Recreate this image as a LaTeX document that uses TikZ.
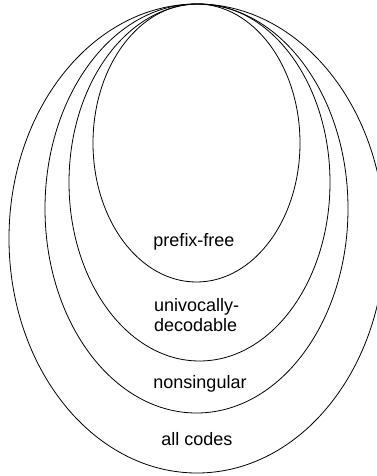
\documentclass[tikz,border=0pt]{standalone}
\usepackage{fontspec}
\setmainfont{Liberation Sans}
\usetikzlibrary{positioning}
\tikzset{
    borde/.style={draw=black, line width=0.8pt},
    rotulo/.style={font=\fontsize{18}{20.5}\selectfont, align=center, inner sep=0pt},
}

\begin{document}
\begin{tikzpicture}[x=1pt, y=-1pt]
\useasboundingbox (0,0) rectangle (377,476);
\clip (0,0) rectangle (377,476);
\begin{scope}
% conjuntos anidados
\draw[borde] (197,238.5) ellipse (188 and 234.5);
\draw[borde] (196.5,208.5) ellipse (151.5 and 204.5);
\draw[borde] (199.5,182.5) ellipse (130.5 and 178.5);
\draw[borde] (196.5,143) ellipse (103.5 and 139);
\end{scope}
\node[rotulo] (prefijo) at (194,242) {prefix-free};
\node[rotulo, align=left] (univoco) at (196.7,315) {univocally-\\decodable};
\node[rotulo] (nosingular) at (200,384) {nonsingular};
\node[rotulo] (todos) at (197,439) {all codes};
\end{tikzpicture}
\end{document}
